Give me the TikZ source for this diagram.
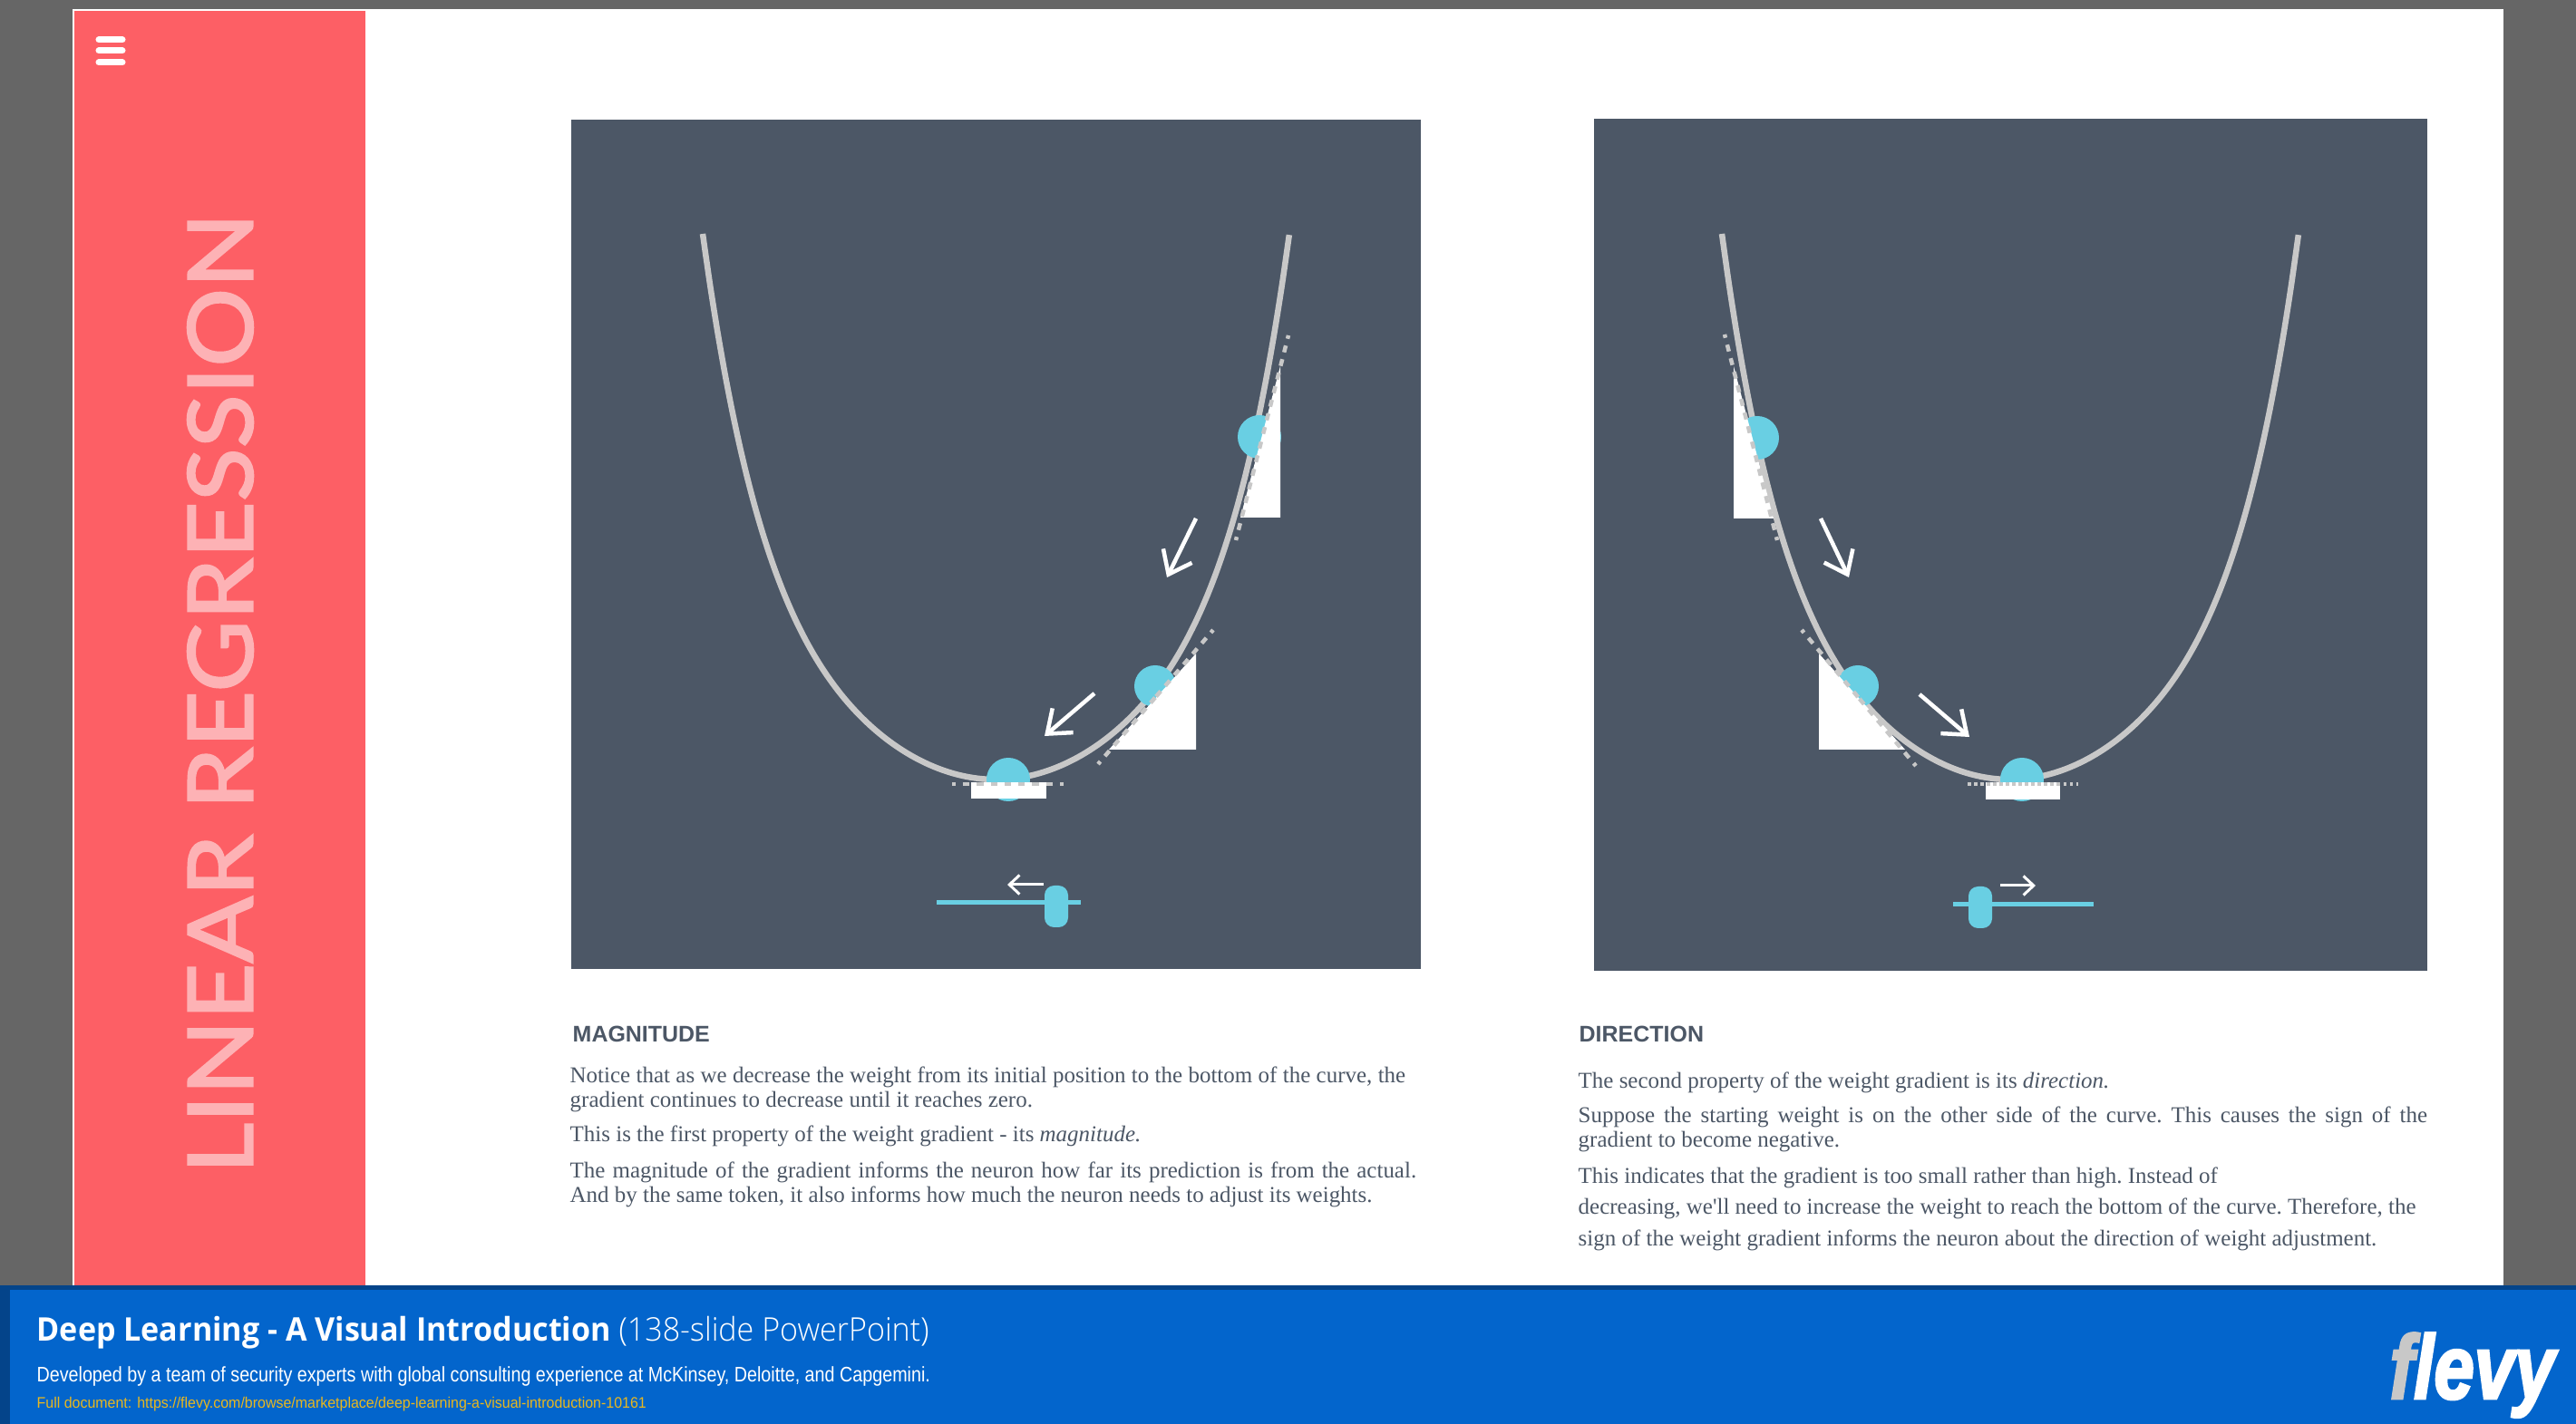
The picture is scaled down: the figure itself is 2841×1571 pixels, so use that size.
\documentclass[tikz,border=0pt]{standalone}
\usepackage{fontspec}
\setmainfont{Liberation Serif}
\setsansfont{Liberation Sans}
\newfontfamily\sidefont[FakeBold=2]{Lato}
\newfontfamily\titlefont{Open Sans}
\newfontfamily\titlelight{Open Sans Light}
\newfontfamily\logofont[FakeBold=3]{Liberation Sans}
\usetikzlibrary{arrows.meta,calc}
\pgfdeclarelayer{background}
\pgfdeclarelayer{foreground}
\pgfsetlayers{background,main,foreground}
\definecolor{slidegray}{HTML}{666666}
\definecolor{sidered}{HTML}{FD5F65}
\definecolor{sidetext}{HTML}{FDB2B5}
\definecolor{panelblue}{HTML}{4C5766}
\definecolor{ballblue}{HTML}{69CFE3}
\definecolor{curvegray}{HTML}{C8C8C8}
\definecolor{bandblue}{HTML}{0365CC}
\definecolor{banddark}{HTML}{04448A}
\definecolor{linkgold}{HTML}{E8B71F}
\tikzset{
  curveline/.style={draw=curvegray,line width=6.5*0.2845pt},
  tangent/.style={draw=curvegray,line width=4.5*0.2845pt,dash pattern=on 1.1pt off 2.2pt on 2.2pt off 2.2pt on 2.2pt off 2.2pt on 2.2pt off 2.2pt on 2.2pt off 2.2pt on 2.2pt off 2.2pt on 2.2pt off 2.2pt on 2.2pt off 2.2pt on 2.2pt off 2.2pt on 2.2pt off 2.2pt on 2.2pt off 2.2pt},
  ball/.style={fill=ballblue,draw=none},
  wedge/.style={fill=white,draw=none},
  movearrow/.style={draw=white,line width=4.5*0.2845pt,-{Straight Barb[length=6.5pt,width=10pt,line width=4.5*0.2845pt]}},
  slidearrow/.style={draw=white,line width=3*0.2845pt,-{Straight Barb[length=3.2pt,width=6pt,line width=3*0.2845pt]}},
  sliderline/.style={draw=ballblue,line width=5*0.2845pt},
  knob/.style={fill=ballblue,draw=none,rounded corners=3pt},
  heading/.style={anchor=base west,inner sep=0pt,text=panelblue,font=\sffamily\bfseries\fontsize{7.1}{8}\selectfont},
  bodyline/.style={anchor=base west,inner sep=0pt,text=panelblue,font=\rmfamily\frenchspacing\fontsize{7.1}{8}\selectfont},
}
\newcommand{\tangentline}[2]{\draw[tangent] (#1) -- ($(#1)!0.5!(#2)$); \draw[tangent] (#2) -- ($(#1)!0.5!(#2)$);}
\begin{document}
\begin{tikzpicture}[x=0.01cm,y=-0.01cm]
\useasboundingbox (0,0) rectangle (2841,1571);
\begin{pgfonlayer}{background}
\fill[slidegray] (0,0) rectangle (2841,1571);
\fill[white] (80,10) rectangle (2761,1420);
\fill[sidered] (82,12) rectangle (403,1420);
\fill[panelblue] (630,132) rectangle (1567,1069); %magnitude
\fill[panelblue] (1758,131) rectangle (2677,1071); %direction
\fill[banddark] (0,1418) rectangle (2841,1571);
\fill[bandblue] (11,1423) rectangle (2841,1571);
\end{pgfonlayer}
\foreach \ypos in {44,56,69} {
\draw[white,line width=7*0.2845pt,line cap=round] (109,\ypos) -- (135,\ypos);
}
\node[rotate=90,xscale=1.096,inner sep=0pt,text=sidetext,font=\sidefont\fontsize{28.2}{30}\selectfont] (sidetitle) at (243,765) {LINEAR REGRESSION};
% magnitude curve
\draw[curveline] plot[domain=-1:1,samples=81,smooth] ({1098.5+323.5*\x},{860-314*\x*\x-288*\x*\x*\x*\x*\x*\x});
\fill[ball] (1389,482) circle (24);
\fill[ball] (1274,757) circle (23);
\fill[ball] (1112,860) circle (24);
\fill[wedge] (1412,404) -- (1412,571) -- (1368,571) -- cycle;
\fill[wedge] (1319,721) -- (1319,827) -- (1223,827) -- cycle;
\fill[wedge] (1071,863) rectangle (1154,881);
\tangentline{1421,370}{1363,596}
\tangentline{1338,695}{1211,843}
\tangentline{1050,865}{1173,865}
\draw[movearrow] (1319,572) -- (1287,637);
\draw[movearrow] (1207,765) -- (1152,812);
\draw[sliderline] (1033,996) -- (1192,996);
\fill[knob] (1152,977) rectangle (1178,1023);
\draw[slidearrow] (1151,976) -- (1111,976);
% direction curve
\draw[curveline] plot[domain=-1:1,samples=81,smooth] ({2217+318*\x},{860-314*\x*\x-288*\x*\x*\x*\x*\x*\x});
\fill[ball] (1938,483) circle (24);
\fill[ball] (2049,757) circle (23);
\fill[ball] (2230,860) circle (24);
\fill[wedge] (1912,404) -- (1912,572) -- (1956,572) -- cycle;
\fill[wedge] (2006,721) -- (2006,827) -- (2101,827) -- cycle;
\fill[wedge] (2190,863) rectangle (2272,882);
\tangentline{1902,369}{1960,596}
\tangentline{1987,695}{2113,845}
\draw[curvegray,line width=1pt,dash pattern=on 1pt off 1pt] (2170,865) -- (2292,865);
\draw[movearrow] (2008,572) -- (2039,637);
\draw[movearrow] (2117,766) -- (2172,813);
\draw[sliderline] (2154,998) -- (2309,998);
\fill[knob] (2171,978) rectangle (2197,1024);
\draw[slidearrow] (2206,977) -- (2245,977);
% texts
\node[heading] (maghead) at (631,1150) {MAGNITUDE};
\node[bodyline] (magone) at (628,1195) {\makebox[921\dimexpr0.2845pt\relax][s]{Notice that as we decrease the weight from its initial position to the bottom of the curve, the}};
\node[bodyline] (magtwo) at (628,1222) {gradient continues to decrease until it reaches zero.};
\node[bodyline] (magthree) at (628,1260) {This is the first property of the weight gradient - its \textit{magnitude.}};
\node[bodyline] (magfour) at (628,1300) {\makebox[933\dimexpr0.2845pt\relax][s]{The magnitude of the gradient informs the neuron how far its prediction is from the actual.}};
\node[bodyline] (magfive) at (628,1327) {And by the same token, it also informs how much the neuron needs to adjust its weights.};
\node[heading] (dirhead) at (1741,1150) {DIRECTION};
\node[bodyline] (dirone) at (1740,1201) {The second property of the weight gradient is its \textit{direction.}};
\node[bodyline] (dirtwo) at (1740,1239) {\makebox[936\dimexpr0.2845pt\relax][s]{Suppose the starting weight is on the other side of the curve. This causes the sign of the}};
\node[bodyline] (dirthree) at (1740,1266) {gradient to become negative.};
\node[bodyline] (dirfour) at (1740,1306) {This indicates that the gradient is too small rather than high. Instead of};
\node[bodyline] (dirfive) at (1740,1340) {decreasing, we\textquotesingle ll need to increase the weight to reach the bottom of the curve. Therefore, the};
\node[bodyline] (dirsix) at (1740,1375) {sign of the weight gradient informs the neuron about the direction of weight adjustment.};
% band
\node[anchor=base west,inner sep=0pt,xscale=0.95,text=white,font=\titlefont\fontsize{10.2}{12}\selectfont] (bandtitle) at (40,1480) {\textbf{Deep Learning - A Visual Introduction} {\titlelight(138-slide PowerPoint)}};
\node[anchor=base west,inner sep=0pt,xscale=0.85,text=white,font=\sffamily\fontsize{6.6}{8}\selectfont] (bandsub) at (40,1525) {Developed by a team of security experts with global consulting experience at McKinsey, Deloitte, and Capgemini.};
\node[anchor=base west,inner sep=0pt,xscale=0.946,text=linkgold,font=\sffamily\fontsize{4.8}{6}\selectfont] (bandlink) at (40,1554) {Full document: https://flevy.com/browse/marketplace/deep-learning-a-visual-introduction-10161};
\node[anchor=base west,inner sep=0pt,xscale=0.8,font=\logofont\bfseries\itshape\fontsize{28.4}{30}\selectfont] (logo) at (2635,1543) {\textcolor{curvegray}{f}\textcolor{white}{levy}};
\end{tikzpicture}
\end{document}
